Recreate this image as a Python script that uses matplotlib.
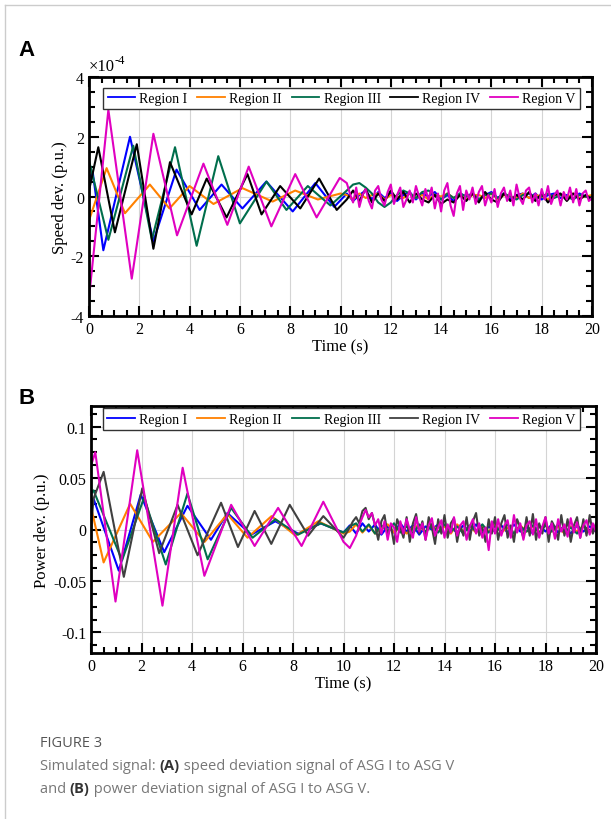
import numpy as np
import matplotlib
matplotlib.use("Agg")
import matplotlib.pyplot as plt
from matplotlib.lines import Line2D
from matplotlib.ticker import MultipleLocator

# ---------------- data ----------------
labels = ["Region I", "Region II", "Region III", "Region IV", "Region V"]

# Panel A: speed deviation, in units of 1e-4 p.u.
a_I_t = [0, 0.15, 0.57, 1.63, 2.56, 3.48, 4.4, 5.27, 6.1, 7.05, 8.1, 9.0, 9.75]
a_I_v = [0.6, 0.8, -1.8, 2.0, -1.5, 0.9, -0.45, 0.4, -0.4, 0.5, -0.5, 0.45, -0.35]
a_II_t = [0, 0.7, 1.43, 2.42, 3.2, 4.0, 4.95, 6.1, 7.3, 8.2, 9.1, 10.0]
a_II_v = [-0.8, 0.95, -0.56, 0.4, -0.4, 0.35, -0.25, 0.28, -0.17, 0.2, -0.1, 0.1]
a_III_t = [0, 0.77, 1.76, 2.5, 3.42, 4.28, 5.14, 6.0, 7.06, 7.85, 8.7, 9.6]
a_III_v = [1.2, -1.45, 1.7, -1.45, 1.65, -1.65, 1.35, -0.9, 0.5, -0.45, 0.35, -0.3]
a_IV_t = [0, 0.37, 1.03, 1.9, 2.56, 3.22, 4.08, 4.68, 5.47, 6.3, 6.86, 7.6, 8.4, 9.15, 9.85]
a_IV_v = [0.2, 1.65, -1.2, 1.75, -1.75, 1.15, -0.6, 0.6, -0.7, 0.75, -0.6, 0.35, -0.4, 0.6, -0.45]
a_V_t = [0, 0.77, 1.7, 2.56, 3.5, 4.55, 5.5, 6.35, 7.25, 8.2, 9.05, 9.97]
a_V_v = [-3.4, 2.9, -2.75, 2.1, -1.3, 1.1, -0.95, 1.0, -1.0, 0.75, -0.7, 0.62]

# noisy tails after 10 s (evenly spaced from 10.25 s to 20 s)
a_I_tail = [0.1, -0.15, 0.05, 0.2, -0.1, 0.15, -0.05, 0.1, -0.15, 0.05, 0.15, -0.1, 0.1, 0.0,
            0.15, -0.1, 0.05, -0.15, 0.1, 0.0, 0.1, -0.1, 0.05, 0.15, -0.05, 0.1, -0.1, 0.05,
            0.1, -0.05, 0.1, -0.1, 0.05, 0.1, -0.05, 0.05, -0.1, 0.1, 0.0, -0.05]
a_II_tail = [0.05, -0.1, 0.1, -0.05, 0.05, 0.1, -0.1, 0.05, 0.0, -0.05, 0.1, -0.05, 0.05, -0.1,
             0.05, 0.0, 0.1, -0.05, 0.05, -0.1, 0.05, 0.05, -0.05, 0.1, -0.1, 0.05, 0.0, -0.05,
             0.1, -0.05, 0.05, 0.0, -0.1, 0.05, 0.05, -0.05, 0.1, -0.05, 0.0, 0.05]
a_III_tail = [0.2, 0.4, 0.45, 0.3, 0.1, -0.2, -0.35, -0.2, 0.05, 0.2, 0.1, -0.05, 0.15, 0.2,
              0.05, -0.1, 0.1, -0.05, 0.1, 0.0, 0.1, -0.1, 0.05, 0.1, -0.05, 0.1, 0.0, -0.1,
              0.05, 0.1, -0.05, 0.0, 0.1, -0.05, 0.05, 0.0, -0.1, 0.05, 0.0, -0.05]
a_IV_tail = [-0.1, 0.2, -0.15, 0.25, -0.2, 0.1, -0.15, 0.2, -0.1, 0.15, -0.2, 0.1, -0.1, -0.2,
             0.05, -0.25, -0.1, -0.2, 0.05, -0.15, 0.1, -0.2, 0.15, -0.1, -0.2, 0.1, -0.15, 0.05,
             -0.1, 0.15, -0.15, 0.1, -0.2, 0.05, 0.1, -0.15, 0.1, -0.1, 0.05, -0.1]
a_V_tail = [0.45, 0.1, -0.2, 0.3, -0.35, 0.05, 0.25, -0.15, -0.4, 0.2,
            0.35, -0.1, -0.3, 0.15, 0.4, -0.25, 0.05, 0.3, -0.35, -0.1,
            0.2, -0.2, 0.35, 0.0, -0.3, 0.25, -0.1, 0.3, -0.4, 0.1,
            -0.5, 0.2, 0.45, -0.3, -0.65, 0.1, 0.35, -0.45, 0.2, -0.1,
            0.3, -0.25, 0.15, 0.35, -0.3, 0.05, -0.2, 0.25, -0.35, 0.1,
            0.3, -0.15, 0.2, -0.3, 0.4, -0.05, -0.25, 0.2, 0.3, -0.2,
            0.1, -0.3, 0.25, -0.1, 0.35, -0.25, 0.05, 0.2, -0.3, 0.15,
            -0.1, 0.3, -0.2, 0.25, -0.3, 0.1, 0.2, -0.15, -0.05]

# Panel B: power deviation, p.u.
b_I_t = [0, 0.1, 1.1, 1.97, 2.9, 3.82, 4.75, 5.4, 6.35, 7.3, 8.2, 9.1, 10.0]
b_I_v = [0.025, 0.03, -0.04, 0.034, -0.022, 0.023, -0.01, 0.016, -0.005, 0.008, -0.004, 0.006, -0.003]
b_II_t = [0, 0.5, 1.55, 2.45, 3.56, 4.5, 5.4, 6.2, 7.15, 8.1, 9.0, 10.0]
b_II_v = [0.022, -0.032, 0.025, -0.012, 0.016, -0.012, 0.015, -0.008, 0.013, -0.006, 0.008, -0.004]
b_III_t = [0, 0.1, 1.23, 2.1, 2.96, 3.82, 4.62, 5.55, 6.4, 7.3, 8.2, 9.1, 10.0]
b_III_v = [0.035, 0.038, -0.03, 0.031, -0.034, 0.035, -0.029, 0.021, -0.008, 0.01, -0.005, 0.006, -0.003]
b_IV_t = [0, 0.1, 0.5, 1.3, 2.03, 2.7, 3.43, 4.22, 5.15, 5.82, 6.48, 7.14, 7.87, 8.6, 9.2, 10.0]
b_IV_v = [0.0, 0.03, 0.056, -0.046, 0.04, -0.023, 0.024, -0.025, 0.026, -0.017, 0.018, -0.014,
          0.024, -0.006, 0.013, -0.008]
b_V_t = [0, 0.17, 0.97, 1.83, 2.83, 3.63, 4.49, 5.55, 6.48, 7.41, 8.34, 9.2, 10.0]
b_V_v = [0.062, 0.075, -0.07, 0.077, -0.074, 0.06, -0.045, 0.024, -0.016, 0.021, -0.016, 0.027, -0.012]

b_I_tail = [0.004, -0.004, 0.006, -0.002, 0.005, -0.005, 0.003, -0.003, 0.006, -0.002, 0.004,
            -0.005, 0.003, 0.0, 0.005, -0.004, 0.002, -0.003, 0.004, -0.002, 0.005, -0.004,
            0.003, -0.002, 0.004, -0.003, 0.005, -0.002, 0.003, -0.004, 0.004, -0.002, 0.005,
            -0.003, 0.003, -0.004, 0.004, -0.002, 0.003, -0.002]
b_II_tail = [-0.002, 0.005, -0.003, 0.004, -0.004, 0.002, 0.005, -0.003, 0.003, -0.004, 0.002,
             0.004, -0.003, 0.005, -0.002, 0.003, -0.004, 0.005, -0.002, 0.003, -0.003, 0.004,
             -0.002, 0.005, -0.003, 0.002, -0.004, 0.004, -0.002, 0.003, -0.003, 0.005, -0.002,
             0.003, -0.004, 0.003, -0.002, 0.004, -0.003, 0.002]
b_III_tail = [0.003, 0.006, -0.002, 0.005, -0.004, 0.004, -0.002, 0.006, -0.003, 0.003, -0.004,
              0.005, -0.002, 0.004, -0.003, 0.005, -0.002, 0.003, -0.004, 0.004, -0.002, 0.005,
              -0.003, 0.003, -0.002, 0.005, -0.004, 0.003, -0.002, 0.004, -0.003, 0.004, -0.002,
              0.005, -0.003, 0.002, -0.004, 0.004, -0.002, 0.003]
b_IV_tail = [0.002, 0.008, 0.012, 0.006, 0.018, 0.021, 0.01, 0.016, 0.004, -0.01,
             0.008, 0.014, -0.006, 0.004, -0.014, 0.01, 0.002, -0.008, 0.012, -0.012,
             0.006, 0.015, -0.004, 0.008, -0.01, 0.012, 0.002, -0.014, 0.01, -0.004,
             0.014, -0.008, 0.006, 0.011, -0.012, 0.004, -0.006, 0.012, -0.01, 0.008,
             0.016, -0.006, 0.002, -0.012, 0.01, -0.004, 0.012, -0.01, 0.006, 0.014,
             -0.008, 0.004, -0.012, 0.01, 0.002, -0.008, 0.012, -0.006, 0.015, -0.01,
             0.006, -0.004, 0.012, -0.012, 0.008, 0.002, -0.01, 0.014, -0.006, 0.01,
             -0.012, 0.004, 0.012, -0.008, 0.01, -0.006, 0.014, -0.004, 0.006]
b_V_tail = [-0.018, -0.012, -0.006, 0.004, 0.012, 0.019, 0.012, 0.016, 0.004, 0.01,
            -0.004, 0.008, -0.01, 0.006, 0.002, -0.012, 0.008, -0.004, 0.01, 0.0,
            -0.008, 0.012, -0.002, 0.006, -0.01, 0.004, 0.011, -0.006, 0.002, 0.009,
            -0.008, 0.005, -0.003, 0.012, -0.006, 0.004, 0.008, -0.01, 0.003, 0.01,
            -0.004, 0.006, -0.008, 0.002, -0.02, 0.008, -0.004, 0.01, -0.006, 0.004,
            0.009, -0.008, 0.014, -0.003, 0.006, -0.01, 0.004, 0.008, -0.005, 0.01,
            -0.008, 0.003, 0.012, -0.004, 0.006, -0.009, 0.01, -0.002, 0.005, -0.007,
            0.011, -0.003, 0.007, -0.008, 0.004, 0.009, -0.005, 0.006, -0.002]

colors_a = ["#0000ff", "#ff8000", "#006e4c", "#000000", "#e000c0"]
colors_b = ["#0000ff", "#ff8000", "#006e4c", "#404040", "#e000c0"]

# ---------------- figure ----------------
plt.rcParams["font.family"] = ["Liberation Serif", "DejaVu Serif"]
plt.rcParams["axes.unicode_minus"] = False

fig = plt.figure(figsize=(6.11, 8.2), dpi=100)
ax_a = fig.add_axes([89 / 611, 1 - 317 / 820, 503 / 611, 239 / 820])
ax_b = fig.add_axes([91 / 611, 1 - 654 / 820, 505 / 611, 247 / 820])


def with_tail(t, v, tail):
    tt = np.linspace(10.25, 20.0, len(tail))
    return np.concatenate([t, tt]), np.concatenate([v, tail])


series_a = [(a_I_t, a_I_v, a_I_tail), (a_II_t, a_II_v, a_II_tail), (a_III_t, a_III_v, a_III_tail),
            (a_IV_t, a_IV_v, a_IV_tail), (a_V_t, a_V_v, a_V_tail)]
series_b = [(b_I_t, b_I_v, b_I_tail), (b_II_t, b_II_v, b_II_tail), (b_III_t, b_III_v, b_III_tail),
            (b_IV_t, b_IV_v, b_IV_tail), (b_V_t, b_V_v, b_V_tail)]

for ax, series, cols in [(ax_a, series_a, colors_a), (ax_b, series_b, colors_b)]:
    for (t, v, tail), c, lab in zip(series, cols, labels):
        x, y = with_tail(t, v, tail)
        ax.plot(x, y, color=c, lw=1.5, label=lab)
    ax.set_xlim(0, 20)
    ax.xaxis.set_major_locator(MultipleLocator(2))
    ax.xaxis.set_minor_locator(MultipleLocator(0.5))
    ax.grid(True, which="major", color="#d4d4d4", lw=0.8)
    ax.set_axisbelow(True)
    ax.tick_params(which="both", direction="in", top=True, right=True, labelsize=11.5, width=1.5)
    ax.tick_params(which="major", length=7)
    ax.tick_params(which="minor", length=4)
    for s in ax.spines.values():
        s.set_linewidth(2)
    ax.set_xlabel("Time (s)", fontsize=12, labelpad=1)

ax_a.set_ylim(-4, 4)
ax_a.yaxis.set_major_locator(MultipleLocator(2))
ax_a.yaxis.set_minor_locator(MultipleLocator(0.5))
ax_a.set_ylabel("Speed dev. (p.u.)", fontsize=12, labelpad=2)
# exponent label above the axis
ax_a.text(0.0, 1.012, "\u00d710", transform=ax_a.transAxes, fontsize=12, ha="left", va="bottom")
ax_a.text(0.051, 1.045, "-4", transform=ax_a.transAxes, fontsize=9, ha="left", va="bottom")

ax_b.set_ylim(-0.12, 0.12)
ax_b.yaxis.set_major_locator(MultipleLocator(0.05))
ax_b.yaxis.set_minor_locator(MultipleLocator(0.0125))
ax_b.set_yticks([-0.1, -0.05, 0, 0.05, 0.1])
ax_b.set_yticklabels(["-0.1", "-0.05", "0", "0.05", "0.1"])
ax_b.set_ylabel("Power dev. (p.u.)", fontsize=12, labelpad=2)

for ax, anchor in [(ax_a, (0.502, 0.955)), (ax_b, (0.496, 0.99))]:
    leg = ax.legend(loc="upper center", bbox_to_anchor=anchor, ncol=5, fontsize=10,
                    frameon=True, fancybox=False, handlelength=2.0, handletextpad=0.3,
                    columnspacing=0.7, borderpad=0.3, borderaxespad=0)
    leg.get_frame().set_edgecolor("#333333")
    leg.get_frame().set_linewidth(1.0)
    leg.get_frame().set_alpha(1)
    for ln in leg.get_lines():
        ln.set_linewidth(1.3)

# panel letters
fig.text(18 / 611, 1 - 56 / 820, "A", fontsize=16, fontweight="bold", family="Liberation Sans")
fig.text(18 / 611, 1 - 404 / 820, "B", fontsize=16, fontweight="bold", family="Liberation Sans")

# page frame lines
fig.add_artist(Line2D([4.5 / 611, 4.5 / 611], [0, 1 - 6 / 820], transform=fig.transFigure,
                      color="#cccccc", lw=1))
fig.add_artist(Line2D([4.5 / 611, 1], [1 - 6 / 820, 1 - 6 / 820], transform=fig.transFigure,
                      color="#cccccc", lw=1))

# caption
cap_font = "Open Sans"
fig.text(40 / 611, 1 - 747 / 820, "FIGURE 3", fontsize=10.5, color="#555555", family=cap_font,
         va="baseline")

renderer = fig.canvas.get_renderer()


def rich_line(x_px, y_px, pieces):
    x = x_px
    for txt, bold in pieces:
        t = fig.text(x / 611, 1 - y_px / 820, txt, fontsize=10.5, family=cap_font,
                     color="#333333" if bold else "#777777",
                     fontweight="bold" if bold else "normal", va="baseline")
        x += t.get_window_extent(renderer).width


rich_line(40, 770, [("Simulated signal: ", False), ("(A)", True),
                    (" speed deviation signal of ASG I to ASG V", False)])
rich_line(40, 793, [("and ", False), ("(B)", True), (" power deviation signal of ASG I to ASG V.", False)])

fig.savefig("out.png", dpi=100)
